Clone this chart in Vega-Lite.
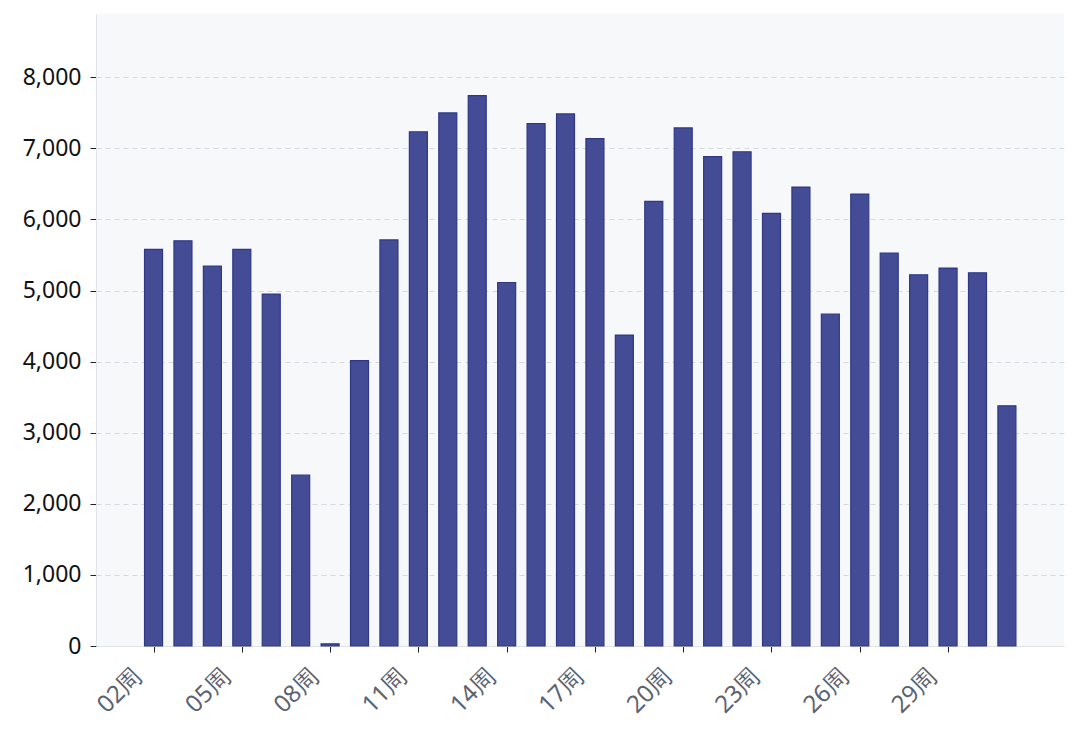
{
  "$schema": "https://vega.github.io/schema/vega-lite/v6.json",
  "autosize": "none",
  "padding": {"left": 96, "top": 14, "right": 16, "bottom": 88},
  "width": 968,
  "height": 632,
  "background": "#ffffff",
  "data": {
    "values": [
      {"week": 2, "value": 5580},
      {"week": 3, "value": 5700},
      {"week": 4, "value": 5345},
      {"week": 5, "value": 5580},
      {"week": 6, "value": 4950},
      {"week": 7, "value": 2403},
      {"week": 8, "value": 30},
      {"week": 9, "value": 4014},
      {"week": 10, "value": 5712},
      {"week": 11, "value": 7234},
      {"week": 12, "value": 7499},
      {"week": 13, "value": 7743},
      {"week": 14, "value": 5113},
      {"week": 15, "value": 7347},
      {"week": 16, "value": 7484},
      {"week": 17, "value": 7136},
      {"week": 18, "value": 4373},
      {"week": 19, "value": 6254},
      {"week": 20, "value": 7287},
      {"week": 21, "value": 6885},
      {"week": 22, "value": 6952},
      {"week": 23, "value": 6085},
      {"week": 24, "value": 6456},
      {"week": 25, "value": 4667},
      {"week": 26, "value": 6357},
      {"week": 27, "value": 5528},
      {"week": 28, "value": 5222},
      {"week": 29, "value": 5316},
      {"week": 30, "value": 5250},
      {"week": 31, "value": 3379}
    ]
  },
  "mark": {
    "type": "bar",
    "width": 18,
    "fill": "#434c94",
    "stroke": "#2e3887",
    "strokeWidth": 1.2
  },
  "encoding": {
    "x": {
      "field": "week",
      "type": "quantitative",
      "scale": {"domain": [0.215, 32.77], "nice": false, "zero": false},
      "axis": {
        "title": null,
        "values": [2, 5, 8, 11, 14, 17, 20, 23, 26, 29],
        "labelExpr": "(datum.value < 10 ? '0' : '') + datum.value + '周'",
        "labelAngle": -45,
        "labelAlign": "right",
        "labelBaseline": "top",
        "labelFont": "Noto Sans",
        "labelFontSize": 24,
        "labelColor": "#5b6270",
        "labelPadding": 12,
        "labelOffset": -24,
        "grid": false,
        "domainColor": "#e1e3e7",
        "tickColor": "#222222",
        "tickSize": 6
      }
    },
    "y": {
      "field": "value",
      "type": "quantitative",
      "scale": {"domain": [0, 8890], "nice": false},
      "axis": {
        "title": null,
        "values": [0, 1000, 2000, 3000, 4000, 5000, 6000, 7000, 8000],
        "format": ",d",
        "labelFont": "Noto Sans",
        "labelFontSize": 23,
        "labelColor": "#111111",
        "labelPadding": 9,
        "grid": true,
        "gridColor": "#d6d9de",
        "gridDash": [5, 4],
        "gridWidth": 1,
        "domainColor": "#e1e3e7",
        "tickColor": "#222222",
        "tickSize": 6
      }
    }
  },
  "config": {
    "font": "Noto Sans CJK SC",
    "view": {"fill": "#f7f8fa", "stroke": null}
  }
}
